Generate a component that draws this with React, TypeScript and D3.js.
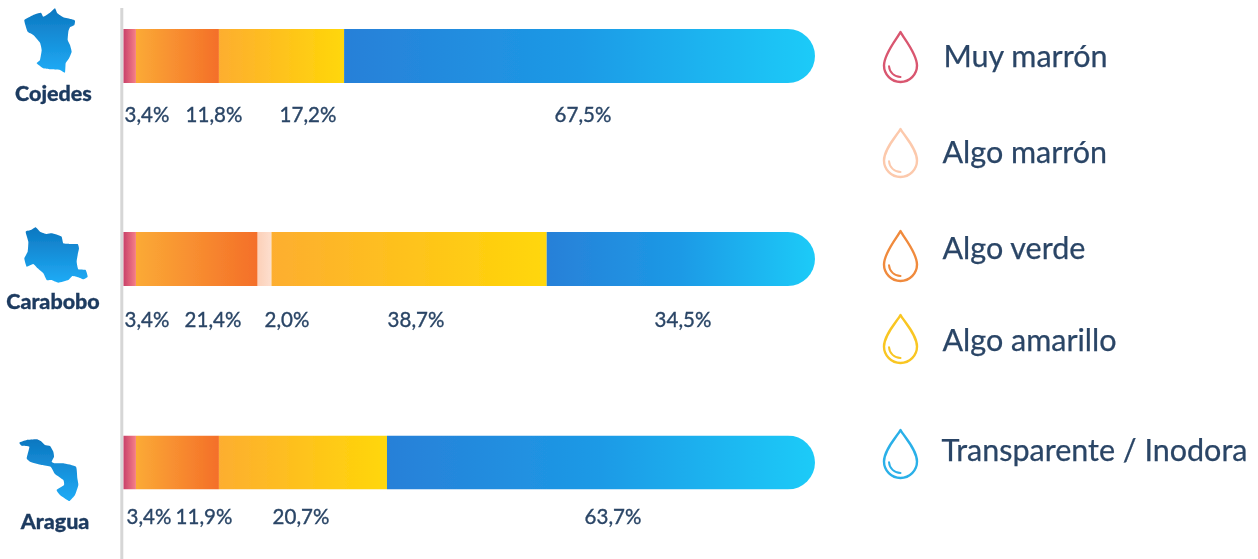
import React from 'react';
import * as d3 from 'd3';

// legend / stack order
const legendNames = ['Muy marrón', 'Algo marrón', 'Algo verde', 'Algo amarillo', 'Transparente / Inodora'];
const stackKeys = ['Muy marrón', 'Algo verde', 'Algo marrón', 'Algo amarillo', 'Transparente / Inodora'];
const states = ['Cojedes', 'Carabobo', 'Aragua'];

// printed percentages, in stack order
const cojedesPrinted = [3.4, 11.8, 0, 17.2, 67.5];
const caraboboPrinted = [3.4, 21.4, 2.0, 38.7, 34.5];
const araguaPrinted = [3.4, 11.9, 0, 20.7, 63.7];

// the original bars are not drawn to scale with their labels: these are the lengths as drawn, % of bar
const cojedesDrawn = [1.8, 12.0, 0, 18.1, 68.1];
const caraboboDrawn = [1.8, 17.6, 2.0, 39.8, 38.8];
const araguaDrawn = [1.8, 12.0, 0, 24.3, 61.9];

const printed = [cojedesPrinted, caraboboPrinted, araguaPrinted];
const drawn = [cojedesDrawn, caraboboDrawn, araguaDrawn];

const stops: Record<string, string[]> = {
  'Muy marrón': ['#c8426a', '#f67f88'],
  'Algo verde': ['#fbaa36', '#f46f29'],
  'Algo marrón': ['#fcd0b8', '#fddfcf'],
  'Algo amarillo': ['#fdae30', '#ffd708'],
  'Transparente / Inodora': ['#2880d8', '#1c9ae6', '#1fcbf8'],
};
const dropColors = ['#d9566f', '#fcc9ac', '#f08a3c', '#f9c623', '#2cb0e8'];

// state silhouettes, hand traced at 3x from the picture
const cojedesOutline: [number, number][] = [[28, 60], [45, 50], [62, 42], [78, 38], [85, 50], [105, 38], [120, 25], [127, 40], [145, 52], [170, 58], [180, 62], [178, 75], [165, 82], [160, 95], [158, 120], [165, 135], [170, 155], [162, 175], [152, 190], [150, 218], [135, 210], [105, 208], [85, 205], [65, 190], [75, 180], [80, 150], [75, 128], [55, 105], [38, 95], [32, 78]];
const caraboboOutline: [number, number][] = [[32, 35], [48, 30], [62, 22], [75, 35], [95, 42], [110, 40], [128, 45], [140, 50], [145, 70], [165, 72], [188, 72], [192, 85], [188, 105], [185, 125], [190, 148], [212, 150], [218, 170], [205, 178], [190, 172], [172, 168], [160, 180], [130, 188], [110, 180], [95, 180], [85, 160], [68, 145], [55, 132], [35, 140], [28, 115], [38, 95], [40, 65]];
const araguaOutline: [number, number][] = [[28, 38], [50, 30], [80, 28], [95, 35], [105, 45], [120, 48], [130, 65], [132, 80], [125, 95], [135, 100], [160, 100], [198, 110], [202, 145], [205, 165], [195, 195], [180, 212], [175, 212], [150, 195], [140, 180], [162, 165], [160, 150], [135, 132], [122, 110], [95, 105], [60, 95], [50, 85], [58, 50], [35, 47]];
const outlines = [cojedesOutline, caraboboOutline, araguaOutline];
const outlineOrigins = [[15, 0], [15, 220], [10, 430]];

const WIDTH = 1258;
const HEIGHT = 559;
const INK = '#2a4566';
const BAR_LEFT = 123.5;
const BAR_RIGHT = 815;
const BAR_H = 54;
const barTops = [29, 232, 435.5];
const labelBase = [122, 327, 523.5];
const labelCenters = [
  [147, 214, null, 308, 583],
  [147, 213, 287, 416, 683],
  [149, 204, null, 301, 613],
];
const nameLayout = [
  { x: 53.5, y: 101 },
  { x: 53, y: 308.5 },
  { x: 55, y: 529 },
];
const legendLayout = [
  { x: 943.5, base: 67, top: 32, bottom: 82 },
  { x: 942.5, base: 163, top: 129, bottom: 177 },
  { x: 942.5, base: 259, top: 231, bottom: 281 },
  { x: 942.5, base: 351, top: 315, bottom: 363 },
  { x: 941.5, base: 460.5, top: 430, bottom: 478 },
];

const esLocale = d3.formatLocale({ decimal: ',', thousands: '.', grouping: [3], currency: ['', ''] });
const fmt = esLocale.format('.1f');

const xScale = d3.scaleLinear().domain([0, 100]).range([BAR_LEFT, BAR_RIGHT]);

const gradId = (key: string) => 'seg-' + stackKeys.indexOf(key);

const outlinePath = (i: number) =>
  d3.line<[number, number]>()
    .x((d) => d[0] / 3 + outlineOrigins[i][0])
    .y((d) => d[1] / 3 + outlineOrigins[i][1])
    .curve(d3.curveCardinalClosed.tension(0.6))(outlines[i]);

// water drop with its small highlight, centred on x=900
const dropPath = (top: number, bottom: number) => {
  const cx = 900.5;
  const r = 16.5;
  const cy = bottom - r;
  const p = d3.path();
  p.moveTo(cx, top);
  p.bezierCurveTo(cx - 3, top + 6, cx - r, cy - 12, cx - r, cy);
  p.arc(cx, cy, r, Math.PI, 0, true);
  p.bezierCurveTo(cx + r, cy - 12, cx + 3, top + 6, cx, top);
  p.closePath();
  return p.toString();
};
const glintPath = (bottom: number) => {
  const cx = 900.5;
  const cy = bottom - 16.5;
  const p = d3.path();
  p.arc(cx, cy, 11.5, Math.PI * 0.98, Math.PI * 0.5, true);
  return p.toString();
};

export default function App() {
  const rows = states.map((state, i) => {
    const row: Record<string, number> = {};
    stackKeys.forEach((k, j) => { row[k] = drawn[i][j]; });
    return row;
  });
  const stacks = rows.map((row) => d3.stack<any>().keys(stackKeys)([row]));

  return (
    <svg width={WIDTH} height={HEIGHT} style={{ position: 'absolute', left: 0, top: 0, display: 'block' }} fontFamily="Lato">
      <defs>
        {stackKeys.map((k) => (
          <linearGradient key={k} id={gradId(k)} x1="0" x2="1" y1="0" y2="0">
            {stops[k].map((c, j) => (
              <stop key={j} offset={(100 * j) / (stops[k].length - 1) + '%'} stopColor={c} />
            ))}
          </linearGradient>
        ))}
        <linearGradient id="map-fill" x1="0" x2="0" y1="0" y2="1">
          <stop offset="0%" stopColor="#0d77c0" />
          <stop offset="100%" stopColor="#1fabf6" />
        </linearGradient>
        {states.map((s, i) => (
          <clipPath key={s} id={'bar-clip-' + i}>
            <rect x={BAR_LEFT - 40} y={barTops[i]} width={BAR_RIGHT - BAR_LEFT + 40} height={BAR_H} rx={BAR_H / 2} />
          </clipPath>
        ))}
        <filter id="soft" x="-5%" y="-5%" width="110%" height="110%">
          <feGaussianBlur stdDeviation="0.45" />
        </filter>
      </defs>

      <rect width={WIDTH} height={HEIGHT} fill="#fff" />
      <rect x={120.3} y={8} width={3} height={HEIGHT - 8} fill="#d6d6d6" />

      <g filter="url(#soft)">
        {states.map((state, i) => (
          <g key={state}>
            <path d={outlinePath(i) as string} fill="url(#map-fill)" />
            <text x={nameLayout[i].x} y={nameLayout[i].y} textAnchor="middle" fontSize={21.5} fontWeight={900} fill="#1f3b60" stroke="#1f3b60" strokeWidth={0.3}>
              {state}
            </text>
            <g clipPath={`url(#bar-clip-${i})`}>
              {stacks[i].filter((s) => s[0][1] > s[0][0]).map((s) => (
                <rect
                  key={s.key}
                  x={xScale(s[0][0])}
                  y={barTops[i]}
                  width={xScale(s[0][1]) - xScale(s[0][0])}
                  height={BAR_H}
                  fill={`url(#${gradId(s.key)})`}
                />
              ))}
            </g>
            {printed[i].map((v, j) => v > 0 && (
              <text key={j} x={labelCenters[i][j] as number} y={labelBase[i]} textAnchor="middle" fontSize={20.5} fill={INK} stroke={INK} strokeWidth={0.35}>
                {fmt(v) + '%'}
              </text>
            ))}
          </g>
        ))}

        {legendNames.map((name, i) => {
          const l = legendLayout[i];
          return (
            <g key={name}>
              <path d={dropPath(l.top, l.bottom)} fill="none" stroke={dropColors[i]} strokeWidth={2.4} strokeLinejoin="round" />
              <path d={glintPath(l.bottom)} fill="none" stroke={dropColors[i]} strokeWidth={2} strokeLinecap="round" />
              <text x={l.x} y={l.base} fontSize={30.5} fill={INK} stroke={INK} strokeWidth={0.25}>{name}</text>
            </g>
          );
        })}
      </g>
    </svg>
  );
}
